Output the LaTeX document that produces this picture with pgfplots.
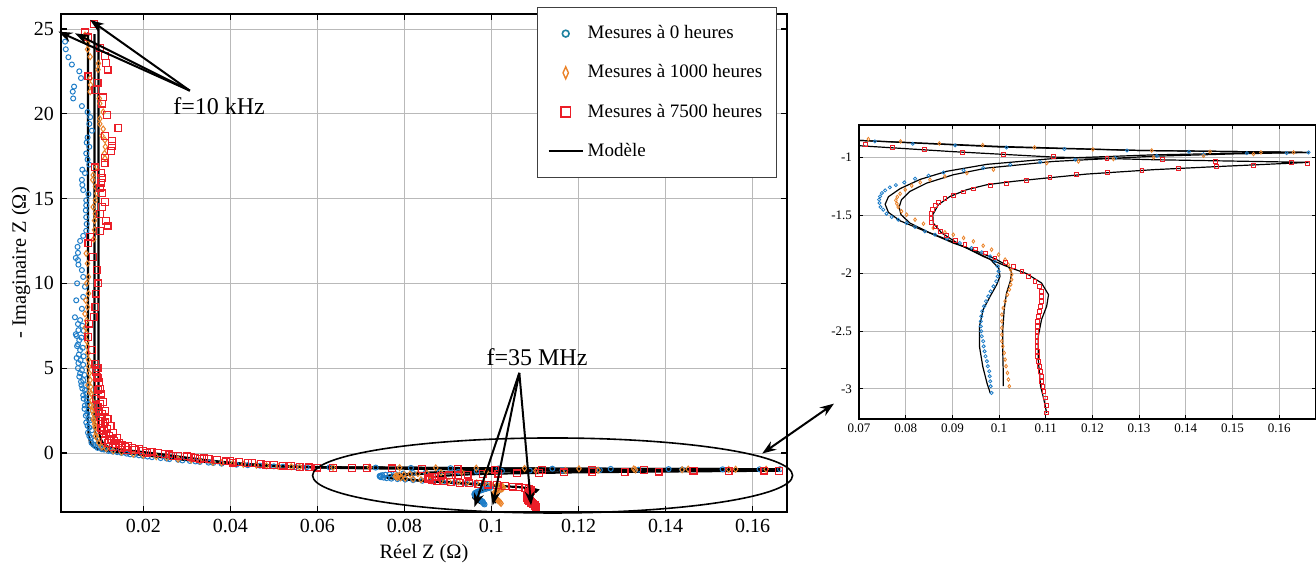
\documentclass[border=0pt]{standalone}
\usepackage{fontspec}
\setmainfont{Liberation Serif}
\usepackage{pgfplots}
\pgfplotsset{compat=1.18}
\usepackage{pgfplotstable}
\usetikzlibrary{arrows.meta}

\definecolor{cblue}{RGB}{30,125,200}
\definecolor{corange}{RGB}{235,130,40}
\definecolor{cred}{RGB}{235,30,40}
\definecolor{cteal}{RGB}{30,130,160}

% ---------- measurements, 0 h ----------
\pgfplotstableread{
x y
0.00204 24.25
0.0022 23.8
0.0028 23.33
0.0036 22.9
0.0053 22.5
0.0057 22.1
0.0041 21.6
0.0038 21.3
0.0039 20.9
0.0059 20.45
0.0072 20.1
0.0078 19.8
0.0076 19.4
0.0082 19.0
0.0072 18.6
0.0070 18.3
0.0076 18.05
0.0069 17.66
0.0072 17.3
0.0076 17.0
0.0060 16.7
0.0066 16.5
0.0059 16.1
0.0060 15.8
0.0062 15.5
0.0074 15.26
0.0069 14.9
0.0069 14.6
0.0068 14.3
0.0069 13.9
0.0070 13.5
0.0069 13.1
0.0062 12.8
0.0055 12.5
0.0049 12.15
0.0050 11.8
0.0045 11.5
0.0050 11.37
0.0051 11.1
0.0059 10.78
0.0062 10.38
0.0048 10.0
0.0066 9.8
0.0062 9.2
0.0046 9.0
0.0059 8.5
0.0043 8.0
0.0055 7.83
0.0050 7.6
0.0060 7.5
0.0051 7.24
0.0063 7.2
0.0045 7.0
0.0047 6.9
0.0058 6.8
0.0053 6.65
0.0048 6.3
0.0050 6.4
0.0061 6.2
0.0055 6.06
0.0052 5.8
0.0063 5.7
0.0047 5.6
0.0056 5.47
0.0051 5.3
0.0062 5.2
0.0050 5.0
0.0059 4.88
0.0055 4.7
0.0065 4.6
0.0053 4.5
0.0062 4.29
0.0057 4.2
0.0067 4.0
0.0058 4.0
0.0060 3.8
0.0066 3.7
0.0069 3.5
0.0062 3.4
0.0063 3.2
0.0070 3.1
0.0072 2.9
0.0066 2.8
0.0065 2.6
0.0074 2.5
0.0071 2.3
0.0068 2.2
0.0074 2.0
0.0078 1.93
0.0069 1.8
0.0072 1.6
0.0076 1.5
0.0082 1.34
0.0073 1.2
0.0076 1.0
0.0079 0.9
0.0089 0.75
0.0081 0.6
0.0085 0.5
0.0090 0.4
0.0101 0.35
0.0095 0.3
0.0105 0.22
0.0110 0.2
0.0124 0.16
0.0120 0.12
0.0130 0.08
0.0140 0.05
0.0150 0.0
0.0162 -0.04
0.0170 -0.08
0.0180 -0.10
0.0190 -0.14
0.0200 -0.18
0.0210 -0.21
0.0220 -0.25
0.0240 -0.30
0.0254 -0.33
0.0260 -0.36
0.0280 -0.40
0.0290 -0.44
0.0307 -0.47
0.0320 -0.50
0.0330 -0.53
0.0350 -0.57
0.0361 -0.59
0.0380 -0.63
0.0414 -0.69
0.0440 -0.72
0.0468 -0.75
0.0500 -0.79
0.0521 -0.81
0.0550 -0.83
0.0575 -0.84
0.0628 -0.85
0.0734 -0.862
0.0815 -0.882
0.0906 -0.896
0.1016 -0.914
0.1140 -0.928
0.1274 -0.940
0.1407 -0.951
0.1531 -0.963
0.1616 -0.963
0.1663 -0.957
0.1438 -0.974
0.1338 -0.986
0.1249 -1.006
0.1163 -1.020
0.1088 -1.040
0.1024 -1.063
0.0966 -1.092
0.0924 -1.112
0.0881 -1.130
0.0849 -1.158
0.0820 -1.184
0.0797 -1.216
0.0779 -1.239
0.0766 -1.259
0.0756 -1.285
0.0749 -1.308
0.0745 -1.337
0.0743 -1.365
0.0744 -1.394
0.0746 -1.429
0.0752 -1.452
0.0759 -1.486
0.0770 -1.515
0.0784 -1.538
0.0802 -1.567
0.0820 -1.601
0.0841 -1.639
0.0863 -1.668
0.0888 -1.702
0.0916 -1.740
0.0941 -1.783
0.0963 -1.820
0.0981 -1.855
0.0991 -1.898
0.0997 -1.941
0.0999 -1.984
0.0997 -2.027
0.0994 -2.070
0.0988 -2.114
0.0982 -2.157
0.0977 -2.200
0.0972 -2.243
0.0968 -2.286
0.0964 -2.329
0.0962 -2.373
0.0961 -2.416
0.0961 -2.459
0.0962 -2.502
0.0963 -2.545
0.0966 -2.588
0.0967 -2.632
0.0969 -2.675
0.0971 -2.718
0.0974 -2.761
0.0976 -2.804
0.0979 -2.847
0.0980 -2.890
0.0981 -2.934
0.0982 -2.977
0.0984 -3.035
}\measA

% ---------- measurements, 1000 h ----------
\pgfplotstableread{
x y
0.0066 24.64
0.0072 24.15
0.0072 23.8
0.0078 23.36
0.0097 22.97
0.0096 22.6
0.0078 22.09
0.0079 21.7
0.0078 21.3
0.0099 20.9
0.0100 20.6
0.0108 20.1
0.0100 19.7
0.0100 19.4
0.0108 19.1
0.0105 18.7
0.0112 18.45
0.0113 18.05
0.0111 17.66
0.0112 17.37
0.0093 16.87
0.0085 16.38
0.0084 16.1
0.0090 15.7
0.0093 15.3
0.0090 14.9
0.0085 14.5
0.0090 14.1
0.0088 13.7
0.0088 13.15
0.0086 12.6
0.0069 11.76
0.0072 11.17
0.0074 10.38
0.0070 10.0
0.0074 9.4
0.0068 9.0
0.0072 8.6
0.0066 8.2
0.0070 7.8
0.0067 7.4
0.0069 7.05
0.0070 6.6
0.0072 6.26
0.0073 5.9
0.0074 5.5
0.0075 5.1
0.0076 4.7
0.0078 4.3
0.0073 4.0
0.0079 3.9
0.0077 3.6
0.0080 3.5
0.0082 3.1
0.0079 2.8
0.0084 2.7
0.0083 2.5
0.0086 2.3
0.0085 2.0
0.0087 1.9
0.0088 1.7
0.0089 1.53
0.0092 1.2
0.0090 1.0
0.0095 0.84
0.0098 0.6
0.0105 0.35
0.0115 0.25
0.0131 0.12
0.0150 0.05
0.0177 -0.08
0.0200 -0.15
0.0230 -0.22
0.0254 -0.27
0.0280 -0.36
0.0310 -0.42
0.0330 -0.47
0.0360 -0.55
0.0380 -0.58
0.0406 -0.63
0.0430 -0.67
0.0460 -0.72
0.0483 -0.75
0.0510 -0.79
0.0540 -0.81
0.0559 -0.83
0.0636 -0.85
0.0720 -0.842
0.0789 -0.862
0.0872 -0.879
0.0965 -0.894
0.1076 -0.914
0.1201 -0.931
0.1327 -0.940
0.1452 -0.951
0.1561 -0.957
0.1631 -0.957
0.1545 -0.971
0.1438 -0.986
0.1331 -1.000
0.1245 -1.014
0.1170 -1.035
0.1102 -1.049
0.0988 -1.106
0.0931 -1.135
0.0884 -1.164
0.0852 -1.193
0.0831 -1.216
0.0813 -1.245
0.0799 -1.279
0.0788 -1.314
0.0782 -1.342
0.0779 -1.371
0.0781 -1.400
0.0784 -1.429
0.0791 -1.466
0.0802 -1.495
0.0820 -1.538
0.0838 -1.573
0.0859 -1.610
0.0884 -1.647
0.0902 -1.668
0.0924 -1.696
0.0945 -1.725
0.0966 -1.763
0.0984 -1.797
0.0999 -1.840
0.1013 -1.883
0.1020 -1.927
0.1025 -1.970
0.1027 -2.013
0.1027 -2.056
0.1025 -2.099
0.1022 -2.142
0.1018 -2.186
0.1013 -2.243
0.1009 -2.301
0.1006 -2.358
0.1006 -2.416
0.1006 -2.473
0.1006 -2.531
0.1006 -2.588
0.1008 -2.632
0.1011 -2.689
0.1013 -2.747
0.1015 -2.804
0.1018 -2.862
0.1020 -2.919
0.1022 -2.977
}\measB

% ---------- measurements, 7500 h ----------
\pgfplotstableread{
x y
0.0066 24.8
0.0087 25.29
0.0073 24.5
0.0101 23.86
0.0112 23.4
0.0114 23.0
0.0118 22.6
0.0074 22.2
0.0095 21.83
0.0090 21.4
0.0108 20.96
0.0105 20.6
0.0116 19.92
0.0143 19.17
0.0112 18.7
0.0128 18.4
0.0128 18.1
0.0126 17.8
0.0112 17.4
0.0111 17.1
0.0089 16.84
0.0103 16.5
0.0105 16.2
0.0104 15.9
0.0100 15.6
0.0105 15.3
0.0112 14.8
0.0105 14.5
0.0101 14.1
0.0114 13.7
0.0118 13.4
0.0101 13.1
0.0078 12.74
0.0074 12.35
0.0085 11.56
0.0093 10.78
0.0097 10.0
0.0092 9.4
0.0090 8.6
0.0086 8.0
0.0076 7.63
0.0074 6.85
0.0082 6.06
0.0090 5.27
0.0095 5.0
0.0091 4.8
0.0093 4.5
0.0096 4.4
0.0098 4.2
0.0100 3.8
0.0097 3.7
0.0103 3.5
0.0092 3.2
0.0108 3.0
0.0101 2.9
0.0095 2.7
0.0112 2.5
0.0099 2.4
0.0105 2.3
0.0101 2.1
0.0118 2.0
0.0102 1.9
0.0113 1.8
0.0108 1.7
0.0125 1.6
0.0104 1.5
0.0117 1.4
0.0105 1.34
0.0110 1.3
0.0130 1.2
0.0115 1.1
0.0122 1.0
0.0140 0.9
0.0126 0.8
0.0112 0.75
0.0133 0.7
0.0120 0.6
0.0145 0.6
0.0138 0.5
0.0150 0.45
0.0165 0.4
0.0131 0.35
0.0158 0.35
0.0150 0.3
0.0175 0.3
0.0190 0.25
0.0180 0.18
0.0162 0.16
0.0200 0.12
0.0215 0.08
0.0220 0.05
0.0208 0.0
0.0235 0.0
0.0250 -0.05
0.0260 -0.08
0.0280 -0.15
0.0269 -0.18
0.0300 -0.20
0.0310 -0.25
0.0320 -0.30
0.0340 -0.32
0.0350 -0.35
0.0330 -0.37
0.0370 -0.42
0.0400 -0.47
0.0390 -0.50
0.0420 -0.55
0.0406 -0.57
0.0440 -0.58
0.0450 -0.60
0.0470 -0.65
0.0500 -0.70
0.0483 -0.71
0.0520 -0.74
0.0540 -0.78
0.0559 -0.83
0.0580 -0.85
0.0600 -0.86
0.0636 -0.89
0.0680 -0.89
0.0713 -0.891
0.0772 -0.914
0.0841 -0.934
0.0922 -0.957
0.1009 -0.977
0.1116 -0.991
0.1231 -1.009
0.1350 -1.020
0.1464 -1.035
0.1627 -1.043
0.1661 -1.049
0.1545 -1.069
0.1466 -1.078
0.1384 -1.095
0.1306 -1.112
0.1232 -1.130
0.1166 -1.150
0.1109 -1.173
0.1059 -1.199
0.1016 -1.222
0.0981 -1.245
0.0945 -1.273
0.0924 -1.299
0.0902 -1.328
0.0884 -1.357
0.0870 -1.388
0.0863 -1.417
0.0858 -1.452
0.0854 -1.486
0.0854 -1.524
0.0856 -1.561
0.0863 -1.601
0.0874 -1.639
0.0888 -1.676
0.0906 -1.717
0.0927 -1.754
0.0949 -1.791
0.0970 -1.826
0.0991 -1.869
0.1013 -1.906
0.1031 -1.941
0.1049 -1.984
0.1063 -2.027
0.1077 -2.070
0.1086 -2.114
0.1091 -2.157
0.1091 -2.200
0.1090 -2.243
0.1088 -2.286
0.1086 -2.329
0.1084 -2.373
0.1083 -2.416
0.1082 -2.459
0.1081 -2.502
0.1081 -2.545
0.1081 -2.588
0.1081 -2.632
0.1082 -2.675
0.1083 -2.718
0.1084 -2.761
0.1086 -2.804
0.1088 -2.847
0.1090 -2.890
0.1091 -2.934
0.1094 -2.977
0.1096 -3.020
0.1099 -3.078
0.1101 -3.144
0.1102 -3.207
}\measC

% ---------- models ----------
\pgfplotstableread{
x y
0.0073 24.8
0.0073 10
0.0073 2.0
0.0074 1.2
0.0077 0.7
0.0084 0.4
0.0095 0.25
0.0120 0.10
0.0160 -0.02
0.0200 -0.12
0.0250 -0.28
0.0300 -0.42
0.0350 -0.55
0.0400 -0.64
0.0450 -0.72
0.0500 -0.78
0.0550 -0.82
0.0600 -0.84
0.0650 -0.85
0.0700 -0.853
0.1000 -0.91
0.1300 -0.94
0.1663 -0.957
0.1500 -0.965
0.1331 -0.978
0.1116 -1.010
0.0974 -1.060
0.0888 -1.120
0.0831 -1.190
0.0788 -1.270
0.0763 -1.340
0.0756 -1.405
0.0763 -1.475
0.0788 -1.548
0.0831 -1.620
0.0888 -1.708
0.0938 -1.795
0.0981 -1.880
0.0999 -1.955
0.1002 -2.027
0.0995 -2.099
0.0981 -2.200
0.0966 -2.315
0.0958 -2.459
0.0958 -2.632
0.0965 -2.804
0.0974 -2.948
0.0981 -3.035
}\modA

\pgfplotstableread{
x y
0.0088 24.7
0.0088 2.0
0.0089 1.3
0.0093 0.8
0.0100 0.5
0.0112 0.3
0.0140 0.12
0.0180 0.0
0.0220 -0.12
0.0270 -0.28
0.0320 -0.42
0.0370 -0.54
0.0420 -0.64
0.0470 -0.72
0.0520 -0.78
0.0570 -0.82
0.0630 -0.845
0.0700 -0.853
0.1000 -0.905
0.1300 -0.94
0.1663 -0.957
0.1500 -0.970
0.1331 -0.990
0.1116 -1.035
0.0974 -1.092
0.0902 -1.150
0.0845 -1.222
0.0809 -1.294
0.0791 -1.365
0.0786 -1.430
0.0790 -1.495
0.0809 -1.567
0.0852 -1.653
0.0902 -1.740
0.0952 -1.810
0.0995 -1.883
0.1020 -1.941
0.1027 -1.999
0.1024 -2.070
0.1016 -2.171
0.1011 -2.315
0.1008 -2.488
0.1008 -2.689
0.1009 -2.862
0.1009 -2.977
}\modB

\pgfplotstableread{
x y
0.0097 25.3
0.0097 2.0
0.0098 1.4
0.0101 0.9
0.0108 0.55
0.0120 0.35
0.0150 0.20
0.0200 0.05
0.0250 -0.10
0.0300 -0.28
0.0350 -0.44
0.0400 -0.57
0.0450 -0.67
0.0500 -0.75
0.0550 -0.81
0.0600 -0.85
0.0650 -0.88
0.0700 -0.899
0.0900 -0.950
0.1116 -0.997
0.1331 -1.020
0.1663 -1.043
0.1474 -1.078
0.1331 -1.106
0.1188 -1.144
0.1102 -1.178
0.1031 -1.207
0.0974 -1.236
0.0931 -1.279
0.0895 -1.337
0.0870 -1.409
0.0858 -1.495
0.0859 -1.567
0.0877 -1.653
0.0916 -1.754
0.0966 -1.855
0.1016 -1.941
0.1059 -2.004
0.1091 -2.085
0.1106 -2.186
0.1102 -2.286
0.1091 -2.401
0.1084 -2.545
0.1084 -2.747
0.1089 -2.977
0.1096 -3.092
0.1102 -3.207
}\modC

\begin{document}
\begin{tikzpicture}[arr/.style={line width=1pt, -{Stealth[length=7pt,width=5pt]}}]
\begin{axis}[
  name=main, at={(0,0)}, anchor=south west,
  scale only axis, width=363pt, height=249pt,
  xmin=0.0011, xmax=0.1679, ymin=-3.48, ymax=25.88,
  scaled x ticks=false, scaled y ticks=false,
  xtick={0.02,0.04,0.06,0.08,0.1,0.12,0.14,0.16},
  xticklabels={0.02,0.04,0.06,0.08,0.1,0.12,0.14,0.16},
  ytick={0,5,10,15,20,25},
  yticklabels={0,5,10,15,20,25},
  grid=major, major grid style={line width=0.4pt, gray!55},
  axis line style={line width=0.9pt},
  major tick length=3pt, tick style={black, line width=0.6pt},
  tick label style={font=\fontsize{10}{12}\selectfont},
  label style={font=\fontsize{10.2}{12}\selectfont},
  xlabel={Réel Z (Ω)}, ylabel={- Imaginaire Z (Ω)},
  xlabel style={yshift=1pt}, ylabel style={yshift=-5pt},
  clip mode=individual,
  legend cell align=left,
  legend style={at={(0.986,1.014)}, anchor=north east, draw=black!75,
    line width=0.5pt, fill=white, font=\fontsize{9.5}{11}\selectfont,
    row sep=7.5pt, inner xsep=5pt, inner ysep=7pt},
]
\addlegendimage{only marks, mark=o, mark size=1.7pt, cteal, mark options={line width=0.8pt}}
\addlegendentry{Mesures à 0 heures}
\addlegendimage{only marks, mark=diamond, mark size=3pt, corange, mark options={xscale=0.6, line width=0.7pt}}
\addlegendentry{Mesures à 1000 heures}
\addlegendimage{only marks, mark=square, mark size=2.4pt, cred, mark options={line width=0.8pt}}
\addlegendentry{Mesures à 7500 heures}
\addlegendimage{black, line width=0.9pt}
\addlegendentry{Modèle}

\addplot[forget plot, black, line width=1.1pt] table[x=x,y=y] {\modA};
\addplot[forget plot, black, line width=1.1pt] table[x=x,y=y] {\modB};
\addplot[forget plot, black, line width=1.1pt] table[x=x,y=y] {\modC};
\addplot[forget plot, only marks, mark=o, mark size=1.25pt, cblue, mark options={line width=0.5pt}] table[x=x,y=y] {\measA};
\addplot[forget plot, only marks, mark=diamond, mark size=1.5pt, corange, mark options={line width=0.5pt}] table[x=x,y=y] {\measB};
\addplot[forget plot, only marks, mark=square, mark size=1.7pt, cred, mark options={line width=0.6pt}] table[x=x,y=y] {\measC};

% annotations
\node[anchor=west, font=\fontsize{12}{14}\selectfont, inner sep=0pt] at (axis cs:0.0268,20.45) {f=10 kHz};
\draw[arr] (axis cs:0.0307,21.36) -- (axis cs:0.0005,24.84);
\draw[arr] (axis cs:0.0307,21.36) -- (axis cs:0.00433,24.74);
\draw[arr] (axis cs:0.0307,21.36) -- (axis cs:0.00778,25.53);

\node[anchor=west, font=\fontsize{12}{14}\selectfont, inner sep=0pt] at (axis cs:0.0988,5.65) {f=35 MHz};
\draw[arr] (axis cs:0.1064,4.72) -- (axis cs:0.09608,-3.19);
\draw[arr] (axis cs:0.1064,4.72) -- (axis cs:0.10028,-3.09);
\draw[arr] (axis cs:0.1064,4.72) -- (axis cs:0.1091,-3.09);

\draw[black, line width=0.8pt] (axis cs:0.11404,-1.327) ellipse [x radius=120pt, y radius=18.75pt];
\draw[line width=1pt, {Stealth[length=7pt,width=5pt]}-{Stealth[length=7pt,width=5pt]}] (axis cs:0.1622,-0.035) -- (axis cs:0.1787,2.91);
\end{axis}

\begin{axis}[
  at={(399pt,46.5pt)}, anchor=south west,
  scale only axis, width=228.5pt, height=147pt,
  xmin=0.07, xmax=0.1679, ymin=-3.26, ymax=-0.72,
  scaled x ticks=false, scaled y ticks=false,
  xtick={0.07,0.08,0.09,0.1,0.11,0.12,0.13,0.14,0.15,0.16},
  xticklabels={0.07,0.08,0.09,0.1,0.11,0.12,0.13,0.14,0.15,0.16},
  ytick={-3,-2.5,-2,-1.5,-1},
  yticklabels={-3,-2.5,-2,-1.5,-1},
  grid=major, major grid style={line width=0.4pt, gray!55},
  axis line style={line width=0.6pt},
  major tick length=2pt, tick style={black, line width=0.5pt},
  tick label style={font=\fontsize{6.5}{8}\selectfont},
  xticklabel style={yshift=1pt},
]
\addplot[only marks, mark=o, mark size=0.8pt, cblue, mark options={line width=0.4pt}] table[x=x,y=y] {\measA};
\addplot[only marks, mark=diamond, mark size=0.9pt, corange, mark options={line width=0.4pt}] table[x=x,y=y] {\measB};
\addplot[only marks, mark=square, mark size=0.95pt, cred, mark options={line width=0.45pt}] table[x=x,y=y] {\measC};
\addplot[black, line width=0.6pt] table[x=x,y=y] {\modA};
\addplot[black, line width=0.6pt] table[x=x,y=y] {\modB};
\addplot[black, line width=0.6pt] table[x=x,y=y] {\modC};
\end{axis}
\pgfresetboundingbox
\path (-30.5pt,-27pt) rectangle (627.5pt,256pt);
\end{tikzpicture}
\end{document}
